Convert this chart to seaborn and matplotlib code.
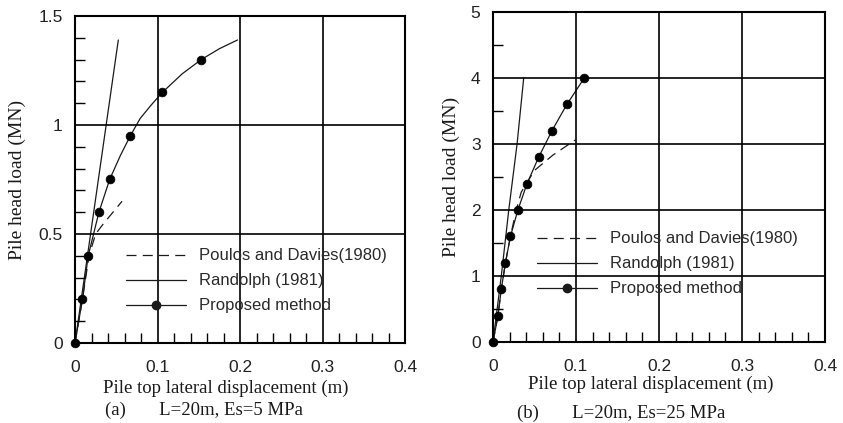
import numpy as np
import pandas as pd
import matplotlib
matplotlib.use("Agg")
import matplotlib.pyplot as plt
from matplotlib.lines import Line2D
from matplotlib.ticker import MultipleLocator, FuncFormatter
import seaborn as sns

# ---- data: panel (a) L=20m, Es=5 MPa ----
prop_a_disp = [0.0, 0.009, 0.016, 0.029, 0.042, 0.067, 0.106, 0.153]
prop_a_load = [0.0, 0.2, 0.4, 0.6, 0.75, 0.95, 1.15, 1.3]
# fitted curve trace for the proposed method (passes the points and runs on past the last one)
curve_a_disp = [0.0, 0.009, 0.016, 0.029, 0.042, 0.055, 0.067, 0.079, 0.092, 0.106, 0.13, 0.153, 0.175, 0.197]
curve_a_load = [0.0, 0.2, 0.4, 0.6, 0.75, 0.86, 0.95, 1.03, 1.09, 1.15, 1.235, 1.3, 1.35, 1.39]
rand_a_disp = [0.0, 0.0525]
rand_a_load = [0.0, 1.39]
poul_a_disp = [0.0, 0.009, 0.017, 0.025, 0.034, 0.057]
poul_a_load = [0.0, 0.2, 0.4, 0.5, 0.545, 0.65]

# ---- data: panel (b) L=20m, Es=25 MPa ----
prop_b_disp = [0.0, 0.006, 0.010, 0.015, 0.021, 0.030, 0.041, 0.055, 0.071, 0.089, 0.110]
prop_b_load = [0.0, 0.4, 0.8, 1.2, 1.6, 2.0, 2.4, 2.8, 3.2, 3.6, 4.0]
rand_b_disp = [0.0, 0.005, 0.010, 0.019, 0.029, 0.037]
rand_b_load = [0.0, 0.5, 1.0, 2.0, 3.0, 4.0]
poul_b_disp = [0.0, 0.006, 0.010, 0.015, 0.021, 0.028, 0.034, 0.050, 0.072, 0.099]
poul_b_load = [0.0, 0.4, 0.8, 1.2, 1.6, 2.0, 2.27, 2.6, 2.83, 3.06]

legend_labels = ["Poulos and Davies(1980)", "Randolph (1981)", "Proposed method"]
x_label = "Pile top lateral displacement (m)"
y_label = "Pile head load (MN)"
captions = ["(a)       L=20m, Es=5 MPa", "(b)       L=20m, Es=25 MPa"]

sns.set_style("white")
plt.rcParams["font.family"] = ["Liberation Sans", "DejaVu Sans"]

SERIF = ["Liberation Serif", "DejaVu Serif"]
INK = "#1a1a1a"
DASH = (8, 5)

fig = plt.figure(figsize=(8.43, 4.23), dpi=100)
ax_a = fig.add_axes([75 / 843, 80 / 423, 330 / 843, 327 / 423])
ax_b = fig.add_axes([493 / 843, 81 / 423, 332 / 843, 330 / 423])


def draw_panel(ax, curve_x, curve_y, pts_x, pts_y, r_x, r_y, p_x, p_y,
               ymax, ymajor, yminor, caption, leg_anchor, xlab_pos, ylab_pad, cap_pos):
    sns.lineplot(x=r_x, y=r_y, ax=ax, color=INK, lw=0.9, sort=False)
    sns.lineplot(x=p_x, y=p_y, ax=ax, color=INK, lw=0.9, sort=False)
    ax.lines[-1].set_dashes(DASH)
    sns.lineplot(x=curve_x, y=curve_y, ax=ax, color=INK, lw=0.9, sort=False)
    sns.scatterplot(x=pts_x, y=pts_y, ax=ax, color="black", s=40,
                    edgecolor="black", linewidth=0.5, zorder=5, clip_on=False)

    ax.set_xlim(0, 0.4)
    ax.set_ylim(0, ymax)
    ax.xaxis.set_major_locator(MultipleLocator(0.1))
    ax.xaxis.set_minor_locator(MultipleLocator(0.02))
    ax.yaxis.set_major_locator(MultipleLocator(ymajor))
    ax.yaxis.set_minor_locator(MultipleLocator(yminor))
    ax.grid(True, which="major", color="black", lw=1.2)
    ax.set_axisbelow(False)
    for sp in ax.spines.values():
        sp.set_visible(True)
        sp.set_color("black")
        sp.set_linewidth(1.5)
    ax.tick_params(which="major", length=0, labelsize=12.5, labelcolor="#222222")
    ax.tick_params(axis="x", which="major", pad=12)
    ax.tick_params(axis="y", which="major", pad=9)
    ax.tick_params(which="minor", direction="in", length=7, width=1.0,
                   color="black", bottom=True, left=True, top=False, right=False)
    ax.xaxis.set_major_formatter(FuncFormatter(
        lambda v, p: "0" if abs(v) < 1e-9 else f"{v:.1f}"))
    ax.yaxis.set_major_formatter(FuncFormatter(lambda v, p: f"{v:g}"))

    ax.set_xlabel(x_label, family=SERIF, fontsize=13.5, color=INK)
    ax.xaxis.set_label_coords(*xlab_pos)
    ax.set_ylabel(y_label, family=SERIF, fontsize=14, color=INK, labelpad=ylab_pad)
    ax.text(cap_pos[0], cap_pos[1], caption, transform=ax.transAxes, family=SERIF,
            fontsize=13.5, color=INK, ha="left", va="top")

    handles = [
        Line2D([], [], color=INK, lw=0.9, dashes=DASH),
        Line2D([], [], color=INK, lw=0.9),
        Line2D([], [], color=INK, lw=0.9, marker="o", markersize=6),
    ]
    leg = ax.legend(handles, legend_labels, loc="upper left",
                    bbox_to_anchor=leg_anchor, frameon=False, fontsize=12,
                    handlelength=3.6, handletextpad=0.75, labelspacing=0.6,
                    borderpad=0, borderaxespad=0)
    for t in leg.get_texts():
        t.set_color("#2a2a2a")


draw_panel(ax_a, curve_a_disp, curve_a_load, prop_a_disp, prop_a_load,
           rand_a_disp, rand_a_load, poul_a_disp, poul_a_load,
           1.5, 0.5, 0.1, captions[0], (0.155, 0.289),
           (0.458, -0.113), 9, (0.091, -0.18))
draw_panel(ax_b, prop_b_disp, prop_b_load, prop_b_disp, prop_b_load,
           rand_b_disp, rand_b_load, poul_b_disp, poul_b_load,
           5, 1, 0.5, captions[1], (0.133, 0.335),
           (0.476, -0.103), 8, (0.072, -0.19))

fig.savefig("out.png", dpi=100)
